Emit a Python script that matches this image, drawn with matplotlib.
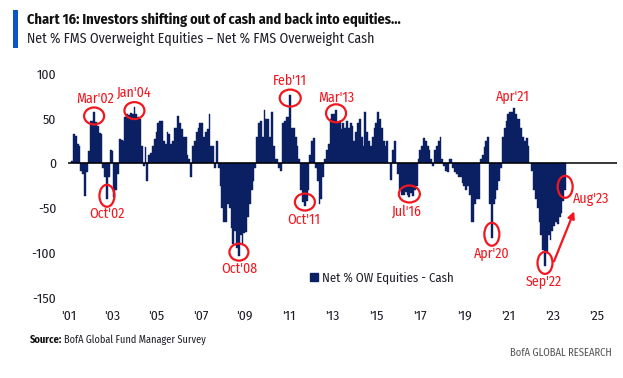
import numpy as np
import matplotlib
matplotlib.use("Agg")
import matplotlib.pyplot as plt
from matplotlib.patches import Ellipse, Rectangle, Patch
from matplotlib.transforms import offset_copy

FONT = ['Fira Sans Condensed', 'Roboto Condensed', 'DejaVu Sans']
plt.rcParams['font.family'] = FONT

# ---------------- data (monthly, Mar 2001 - Aug 2023) ----------------
start_year, start_month = 2001, 3
v2001 = [3, 33, 31, 22, 19, -8, -12, -36, -10, 14]
v2002 = [47, 48, 57, 46, 42, 34, 33, -5, -15, -40, -15, 15]
v2003 = [14, -37, -30, -12, 27, 26, 25, 52, 55, 54, 56, 55]
v2004 = [63, 55, 52, 50, 20, -3, 18, -20, 10, 12, 20, 27]
v2005 = [35, 45, 48, 48, 25, 22, 35, 33, 22, 25, 40, 40]
v2006 = [53, 45, 38, 30, 30, 10, 5, -15, 20, 25, 35, 40]
v2007 = [45, 45, 30, 35, 38, 55, 20, 20, -5, 25, -5, -25]
v2008 = [-50, -65, -65, -45, -50, -72, -90, -75, -95, -103, -80, -90]
v2009 = [-78, -77, -60, -45, -30, -20, -5, 30, 45, 48, 30, 60]
v2010 = [50, 50, 30, 58, 20, 5, 5, -5, -8, 45, 48, 52]
v2011 = [52, 77, 40, 40, 30, 20, 5, -30, -43, -47, -42, -30]
v2012 = [10, 25, 28, -5, -20, -45, -40, -15, 5, 15, 22, 50]
v2013 = [55, 55, 60, 45, 48, 38, 45, 40, 47, 40, 45, 42]
v2014 = [25, 35, 45, 50, 30, 20, 58, 35, 25, 20, 30, 40]
v2015 = [45, 58, 50, 40, 25, 20, 25, 0, -18, 15, 25, 0]
v2016 = [-12, -30, -35, -35, -32, -35, -38, -33, -36, -30, -25, 5]
v2017 = [15, 20, 28, 25, 20, 15, 5, -3, 15, 20, 25, 30]
v2018 = [5, -3, -8, -10, 5, 5, -5, -10, -12, -15, -15, -22]
v2019 = [-25, -30, -25, -35, -65, -65, -45, -40, -40, 5, 10, 18]
v2020 = [25, 30, -45, -83, -45, -40, -30, -20, -5, 30, 40, 48]
v2021 = [55, 58, 58, 62, 55, 50, 50, 40, 30, 25, 28, 20]
v2022 = [0, -8, -30, -40, -50, -65, -80, -97, -115, -100, -80, -85]
v2023 = [-75, -70, -65, -68, -60, -55, -42, -30]

values = np.array(v2001 + v2002 + v2003 + v2004 + v2005 + v2006 + v2007 + v2008
                  + v2009 + v2010 + v2011 + v2012 + v2013 + v2014 + v2015 + v2016
                  + v2017 + v2018 + v2019 + v2020 + v2021 + v2022 + v2023, dtype=float)

tick_years = list(range(2001, 2026, 2))
tick_labels = ["'%02d" % (y % 100) for y in tick_years]
yticks = [-150, -100, -50, 0, 50, 100]

# annotated months: (label, year, month)
ann_points = [("Mar'02", 2002, 3), ("Oct'02", 2002, 10), ("Jan'04", 2004, 1),
              ("Oct'08", 2008, 10), ("Feb'11", 2011, 2), ("Oct'11", 2011, 10),
              ("Mar'13", 2013, 3), ("Jul'16", 2016, 7), ("Apr'20", 2020, 4),
              ("Apr'21", 2021, 4), ("Sep'22", 2022, 9), ("Aug'23", 2023, 8)]

series_name = "Net % OW Equities - Cash"

# ---------------- styling ----------------
navy = "#0B1F63"
red = "#F2161E"
txt_col = "#1E1E2A"
# ellipse size (px) and label offset (px) relative to the ellipse centre
ann_style = {
    "Mar'02": dict(e=(20, 17), t=(1, 17)),
    "Oct'02": dict(e=(15, 22), t=(0, -18)),
    "Jan'04": dict(e=(20, 17), t=(0, 18)),
    "Oct'08": dict(e=(19, 17), t=(0, -17)),
    "Feb'11": dict(e=(21, 17), t=(0, 17)),
    "Oct'11": dict(e=(20, 17), t=(-1, -18)),
    "Mar'13": dict(e=(20, 18), t=(0, 15)),
    "Jul'16": dict(e=(21, 17), t=(-2, -18)),
    "Apr'20": dict(e=(15, 23), t=(0, -19)),
    "Apr'21": dict(e=None, t=(-1, 16)),
    "Sep'22": dict(e=(15, 22), t=(-1, -18)),
    "Aug'23": dict(e=(15, 22), t=(26, -12)),
}

W, H = 623, 378
fig = plt.figure(figsize=(W / 100, H / 100), dpi=100)
fig.patch.set_facecolor("white")

ax_l, ax_r, ax_t, ax_b = 68, 617, 74, 297.7
ax = fig.add_axes([ax_l / W, 1 - ax_b / H, (ax_r - ax_l) / W, (ax_b - ax_t) / H])

months = np.arange(len(values))
x = start_year + (start_month - 1 + months) / 12.0
ax.bar(x, values, width=1 / 12.0, color=navy, edgecolor=navy, linewidth=0.3,
       align="center", zorder=2)
ax.axhline(0, color="black", lw=1.1, zorder=3)

ax.set_xlim(2000.98, 2025.94)
ax.set_ylim(-150, 100)
for s in ax.spines.values():
    s.set_visible(False)
ax.set_yticks(yticks)
ax.set_yticklabels([str(v) for v in yticks])
ax.set_xticks(tick_years)
ax.set_xticklabels(tick_labels)
ax.tick_params(axis="both", length=0, labelsize=9.8, colors=txt_col)
ax.tick_params(axis="y", pad=8.5)
ax.tick_params(axis="x", pad=9)

px_per_year = (ax_r - ax_l) / (2025.94 - 2000.98)
px_per_unit = (ax_b - ax_t) / 250.0

def lookup(year, month):
    idx = (year - start_year) * 12 + (month - start_month)
    return start_year + (start_month - 1 + idx) / 12.0, values[idx]

for label, yr, mo in ann_points:
    xv, yv = lookup(yr, mo)
    st = ann_style[label]
    sgn = 1 if yv >= 0 else -1
    cy = yv - sgn * 3.5 / px_per_unit
    if st["e"] is not None:
        ew, eh = st["e"]
        ax.add_patch(Ellipse((xv, cy), ew / px_per_year, eh / px_per_unit,
                             fill=False, edgecolor=red, lw=1.6, zorder=5))
    ax.annotate(label, xy=(xv, cy), xytext=st["t"], textcoords="offset pixels",
                ha="center", va="center", color=red, fontsize=10, zorder=6)

# arrow from Sep'22 trough towards Aug'23
xs, ys = lookup(2022, 9)
xe, ye = lookup(2023, 8)
ax.annotate("", xy=(xe, ye), xycoords=offset_copy(ax.transData, fig=fig, x=9, y=-21, units="dots"),
            xytext=(xs, ys), textcoords=offset_copy(ax.transData, fig=fig, x=9, y=5, units="dots"),
            arrowprops=dict(arrowstyle="-|>", color=red, lw=1.6, mutation_scale=10,
                            shrinkA=0, shrinkB=0), zorder=6)

# legend
leg = ax.legend(handles=[Patch(facecolor=navy, edgecolor=navy)], labels=[series_name],
                loc="center left", bbox_to_anchor=(310 / W, 1 - 278 / H),
                bbox_transform=fig.transFigure, frameon=False,
                prop=dict(family=FONT, size=9.2),
                handlelength=0.65, handleheight=0.65, handletextpad=0.3,
                borderpad=0, borderaxespad=0)
for t in leg.get_texts():
    t.set_color(txt_col)

# title block
fig.patches.append(Rectangle((13 / W, 1 - 48 / H), 5 / W, 38 / H, transform=fig.transFigure,
                             facecolor="#0A55C8", edgecolor="none"))
fig.text(27 / W, 1 - 20 / H, "Chart 16: Investors shifting out of cash and back into equities...",
         fontsize=10.3, fontweight="bold", color="#111111", va="center", ha="left")
fig.text(27 / W, 1 - 39 / H, "Net % FMS Overweight Equities \u2013 Net % FMS Overweight Cash",
         fontsize=10, color=txt_col, va="center", ha="left")

# footer
fig.text(30 / W, 1 - 340 / H, "Source:", fontsize=7.5, fontweight="bold", color="#111111",
         va="center", ha="left")
fig.text(64 / W, 1 - 340 / H, "BofA Global Fund Manager Survey", fontsize=7.4,
         color=txt_col, va="center", ha="left")
fig.text(612 / W, 1 - 353 / H, "BofA GLOBAL RESEARCH", fontsize=7.6,
         color="#555555", va="center", ha="right")

fig.savefig("out.png", dpi=100, facecolor="white")
